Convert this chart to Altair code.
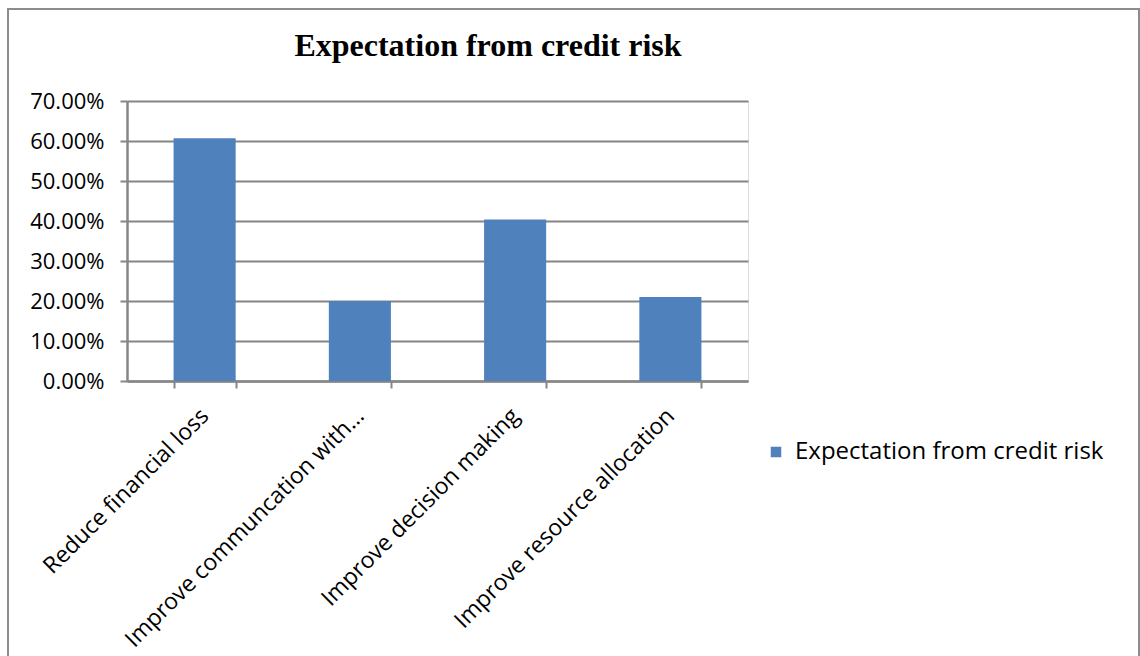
import altair as alt
import pandas as pd

# Survey answers: share of respondents per expected benefit
categories = [
    "Reduce financial loss",
    "Improve communcation with…",
    "Improve decision making",
    "Improve resource allocation",
]
shares = [0.607, 0.200, 0.404, 0.210]
series_name = "Expectation from credit risk"
chart_title = "Expectation from credit risk"
y_ticks = [0.0, 0.1, 0.2, 0.3, 0.4, 0.5, 0.6, 0.7]

df = pd.DataFrame({"category": categories, "share": shares, "series": series_name})
title_df = pd.DataFrame({"title": [chart_title]})

AXIS_GREY = "#868686"
BAR_BLUE = "#4F81BD"
LABEL_FONT = "Open Sans"
PLOT_W, PLOT_H = 621, 280

bars = alt.Chart(df).mark_bar(color=BAR_BLUE).encode(
    x=alt.X(
        "category:N",
        sort=categories,
        title=None,
        scale=alt.Scale(paddingInner=0.6, paddingOuter=0.3),
        axis=alt.Axis(
            labelAngle=-45,
            labelAlign="right",
            labelBaseline="middle",
            labelPadding=24,
            labelFont=LABEL_FONT,
            labelFontSize=23,
            labelColor="#000000",
            labelLimit=0,
            tickBand="extent",
            tickSize=7,
            tickColor=AXIS_GREY,
            tickWidth=2,
            domainColor=AXIS_GREY,
            domainWidth=2.5,
            grid=False,
        ),
    ),
    y=alt.Y(
        "share:Q",
        title=None,
        scale=alt.Scale(domain=[0, 0.7], nice=False),
        axis=alt.Axis(
            values=y_ticks,
            format=".2%",
            labelFont=LABEL_FONT,
            labelFontSize=22,
            labelColor="#000000",
            labelPadding=16,
            tickSize=7,
            tickColor=AXIS_GREY,
            tickWidth=2,
            domainColor=AXIS_GREY,
            domainWidth=2.5,
            grid=True,
            gridColor=AXIS_GREY,
            gridWidth=1.8,
        ),
    ),
    color=alt.Color(
        "series:N",
        scale=alt.Scale(range=[BAR_BLUE]),
        legend=alt.Legend(
            title=None,
            orient="none",
            legendX=637,
            legendY=339,
            symbolType="square",
            symbolSize=110,
            symbolStrokeWidth=0,
            labelFont=LABEL_FONT,
            labelFontSize=24,
            labelOffset=7,
            labelColor="#000000",
            labelLimit=0,
        ),
    ),
)

# Chart title
title = alt.Chart(title_df).mark_text(
    font="Liberation Serif",
    fontSize=32,
    fontWeight="bold",
    color="#000000",
    align="center",
    baseline="alphabetic",
).encode(
    text="title:N",
    x=alt.value(361),
    y=alt.value(-45),
)

# Chart-area frame around the whole figure
frame = alt.Chart(title_df).mark_rect(
    fill=None, stroke="#8c8c8c", strokeWidth=2
).encode(
    x=alt.value(-119),
    x2=alt.value(1012),
    y=alt.value(-92),
    y2=alt.value(600),
)

chart = alt.layer(frame, title, bars).properties(
    width=PLOT_W,
    height=PLOT_H,
    autosize=alt.AutoSizeParams(type="none"),
    padding={"left": 127, "top": 101, "right": 392, "bottom": 275},
).configure_view(stroke=None).configure(background="white")

chart.save("out.html", embed_options={"renderer": "svg", "actions": False})
